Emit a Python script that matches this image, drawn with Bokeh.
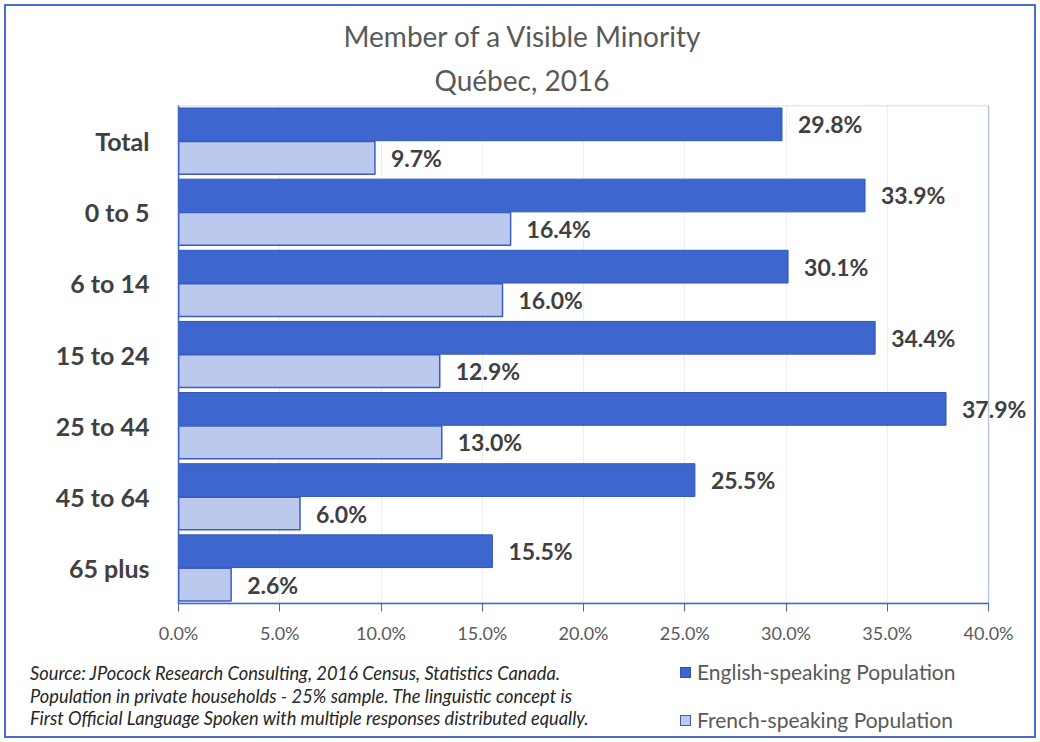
from bokeh.plotting import figure
from bokeh.layouts import column
from bokeh.models import (ColumnDataSource, FactorRange, Range1d, FixedTicker, BoxAnnotation,
                          PrintfTickFormatter, LabelSet, Title, Div)
from bokeh.transform import dodge
from bokeh.core.properties import value
from bokeh.embed import file_html
from bokeh.resources import INLINE

# ---- data ----
categories = ["Total", "0 to 5", "6 to 14", "15 to 24", "25 to 44", "45 to 64", "65 plus"]
english = [29.8, 33.9, 30.1, 34.4, 37.9, 25.5, 15.5]
french = [9.7, 16.4, 16.0, 12.9, 13.0, 6.0, 2.6]
x_ticks = [0, 5, 10, 15, 20, 25, 30, 35, 40]
series_names = ["English-speaking Population", "French-speaking Population"]
title_lines = ["Member of a Visible Minority", "Québec, 2016"]
source_lines = [
    "Source: JPocock Research Consulting, 2016 Census, Statistics Canada.",
    "Population in private households - 25% sample. The linguistic concept is",
    "First Official Language Spoken with multiple responses distributed equally.",
]

FONT = "Lato"
ENG_FILL = "#3D67CF"
ENG_LINE = "#2F56BC"
FR_FILL = "#BCC9EE"
FR_LINE = "#3D5CC2"
AXIS_BLUE = "#4065CC"
X_MAX = 40
W = 1028

src = ColumnDataSource(dict(
    cat=categories,
    eng=english,
    fr=french,
    eng_lbl=[f"{v:.1f}%" for v in english],
    fr_lbl=[f"{v:.1f}%" for v in french],
))

p = figure(
    width=W, height=640,
    y_range=FactorRange(factors=list(reversed(categories))),
    x_range=Range1d(0, 42.17),   # room right of 40% so the data labels are not cut
    output_backend="svg", toolbar_location=None,
    min_border_left=172, min_border_right=2,
    min_border_top=99, min_border_bottom=42,
)
p.background_fill_color = "white"
p.border_fill_color = "white"
p.outline_line_color = None

r_eng = p.hbar(y=dodge("cat", 0.235, range=p.y_range), right="eng", left=0, height=0.46,
               source=src, fill_color=ENG_FILL, line_color=ENG_LINE, line_width=1)
r_fr = p.hbar(y=dodge("cat", -0.235, range=p.y_range), right="fr", left=0, height=0.46,
              source=src, fill_color=FR_FILL, line_color=FR_LINE, line_width=1.5)

# plot-area border from 0% to 40%
p.add_layout(BoxAnnotation(left=0, right=X_MAX, fill_alpha=0,
                           line_color=AXIS_BLUE, line_width=1.5))

p.ygrid.grid_line_color = None
p.xgrid.grid_line_color = "#EDEDED"
p.xgrid.ticker = FixedTicker(ticks=x_ticks)

p.xaxis.ticker = FixedTicker(ticks=x_ticks)
p.xaxis.bounds = (0, X_MAX)
p.xaxis.formatter = PrintfTickFormatter(format="%.1f%%")
p.xaxis.axis_line_color = AXIS_BLUE
p.xaxis.axis_line_width = 1.5
p.xaxis.major_tick_line_color = AXIS_BLUE
p.xaxis.major_tick_out = 8
p.xaxis.major_tick_in = 0
p.xaxis.minor_tick_line_color = None
p.xaxis.major_label_text_font = FONT
p.xaxis.major_label_text_font_size = "18px"
p.xaxis.major_label_text_color = "#595959"
p.xaxis.major_label_standoff = 10

p.yaxis.axis_line_color = AXIS_BLUE
p.yaxis.axis_line_width = 1.5
p.yaxis.major_tick_line_color = None
p.yaxis.minor_tick_line_color = None
p.yaxis.major_label_text_font = FONT
p.yaxis.major_label_text_font_size = "25px"
p.yaxis.major_label_text_font_style = "bold"
p.yaxis.major_label_text_color = "#404040"
p.yaxis.major_label_standoff = 23

for col, lbl, off in (("eng", "eng_lbl", 0.235), ("fr", "fr_lbl", -0.235)):
    p.add_layout(LabelSet(
        x=col, y=dodge("cat", off, range=p.y_range), text=lbl, source=src,
        x_offset=16, text_baseline="middle", text_align="left",
        text_font=value(FONT), text_font_size="23px", text_font_style="bold",
        text_color="#404040"))

# titles, stacked outward from the plot area
p.add_layout(Title(text=title_lines[1], align="left", offset=256, standoff=17,
                   text_font=FONT, text_font_size="28px", text_font_style="normal",
                   text_color="#595959"), "above")
p.add_layout(Title(text=title_lines[0], align="left", offset=165, standoff=0,
                   text_font=FONT, text_font_size="28px", text_font_style="normal",
                   text_color="#595959"), "above")

# ---- footnote + legend strip ----
note_html = "".join(f"<div>{s}</div>" for s in source_lines)


def key(fill, line, label, top):
    return (f'<div style="position:absolute;left:674px;top:{top}px;height:24px;'
            f'display:flex;align-items:center;white-space:nowrap;">'
            f'<span style="display:inline-block;width:11px;height:11px;background:{fill};'
            f'border:1px solid {line};margin-right:6px;"></span>'
            f'<span style="font-size:21px;color:#595959;">{label}</span></div>')


html = (
    f'<div style="position:relative;width:{W}px;height:90px;font-family:{FONT};">'
    f'<div style="position:absolute;left:24px;top:16px;font-size:18.3px;font-style:italic;'
    f'line-height:22.5px;color:#262626;white-space:nowrap;">{note_html}</div>'
    + key(ENG_FILL, ENG_LINE, series_names[0], 14)
    + key(FR_FILL, FR_LINE, series_names[1], 62)
    + "</div>"
)
bottom = Div(text=html, width=W, height=90, styles={"margin": "0", "padding": "0"})

layout = column(p, bottom, spacing=0,
                styles={"border": "2px solid #4A6BD0", "margin": "4px",
                        "background": "white"})

open("out.html", "w").write(file_html(layout, INLINE))
